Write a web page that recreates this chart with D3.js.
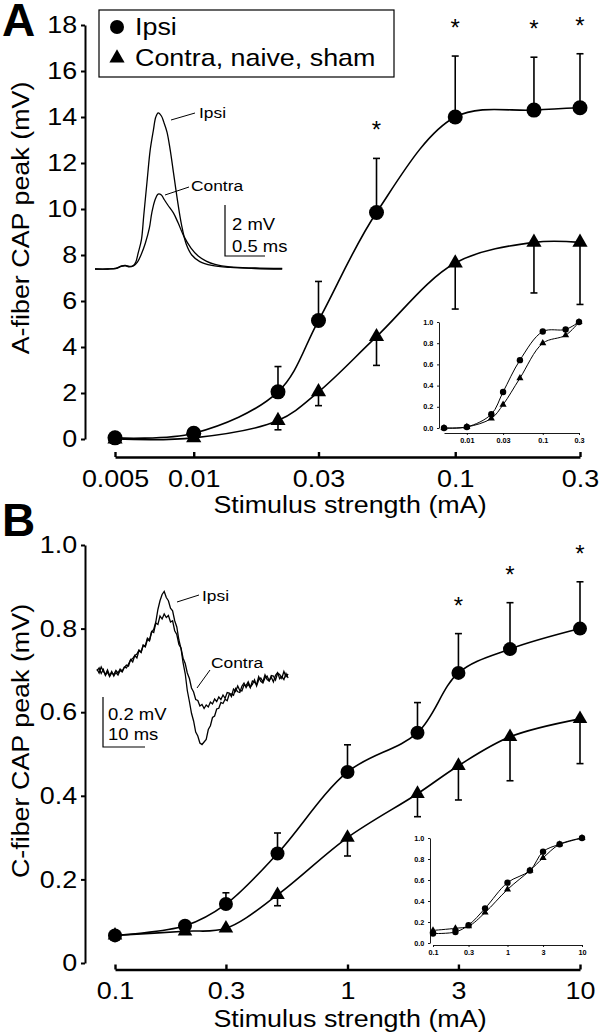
<!DOCTYPE html>
<html><head><meta charset="utf-8">
<script src="https://cdnjs.cloudflare.com/ajax/libs/d3/7.8.5/d3.min.js"></script>
<style>html,body{margin:0;padding:0;background:#fff;} svg{display:block;} text{font-family:"Liberation Sans",Arial,Helvetica,sans-serif;fill:#000;}</style>
</head><body><svg id="c" width="600" height="1033"></svg>
<script>
// ---------- DATA ----------
// Panel A (A-fiber)
const stimA = [0.005, 0.01, 0.021, 0.03, 0.05, 0.1, 0.2, 0.3];
const ipsiA = [0.05, 0.25, 2.05, 5.15, 9.85, 14.0, 14.3, 14.4];
const ipsiAErrTop = [null, null, 3.15, 6.85, 12.2, 16.65, 16.6, 16.75];
const contraA = [0, 0.05, 0.8, 2.05, 4.45, 7.65, 8.55, 8.55];
const contraAErrBottom = [null, null, 0.4, 1.45, 3.2, 5.65, 6.35, 5.85];
const sigA = [0.05, 0.1, 0.2, 0.3];
const yTicksA = [0, 2, 4, 6, 8, 10, 12, 14, 16, 18];
const xTicksA = [0.005, 0.01, 0.03, 0.1, 0.3];
const normIpsiA = [0, 0.01, 0.13, 0.34, 0.64, 0.91, 0.93, 1.0];
const normContraA = [0, 0.01, 0.09, 0.22, 0.47, 0.8, 0.875, 1.0];
const xTicksAInset = [0.01, 0.03, 0.1, 0.3];
// A-fiber example traces (ms, mV)
const traceAIpsiT = [0,0.16,0.26,0.33,0.38,0.43,0.48,0.51,0.54,0.58,0.61,0.65,0.69,0.73,0.76,0.79,0.83,0.86,0.90,0.94,0.98,1.03,1.08,1.14,1.21,1.31,1.46,1.69,2.0,2.34];
const traceAIpsiV = [0,0,0.02,0.12,0.14,0.10,0.14,0.27,0.63,1.14,2.12,3.41,4.67,5.45,5.96,6.12,6.0,5.76,5.37,4.67,3.80,2.71,1.76,0.98,0.55,0.29,0.14,0.06,0.02,0];
const traceAContraT = [0,0.16,0.26,0.33,0.38,0.43,0.48,0.53,0.58,0.63,0.68,0.71,0.75,0.79,0.83,0.86,0.91,0.98,1.04,1.11,1.2,1.29,1.39,1.5,1.69,2.0,2.34];
const traceAContraV = [0,0,0.02,0.1,0.12,0.08,0.12,0.27,0.59,1.02,1.61,2.2,2.71,2.94,2.9,2.75,2.51,2.2,1.8,1.29,0.82,0.51,0.31,0.18,0.08,0.04,0.02];

// Panel B (C-fiber)
const stimB = [0.1, 0.2, 0.3, 0.5, 1, 2, 3, 5, 10];
const ipsiB = [0.066, 0.089, 0.141, 0.262, 0.457, 0.551, 0.694, 0.751, 0.8];
const ipsiBErrTop = [null, null, 0.168, 0.311, 0.522, 0.623, 0.788, 0.862, 0.912];
const contraB = [0.066, 0.076, 0.083, 0.163, 0.3, 0.405, 0.472, 0.541, 0.584];
const contraBErrBottom = [null, null, null, 0.137, 0.256, 0.35, 0.39, 0.436, 0.477];
const sigB = [3, 5, 10];
const yTicksB = [0, 0.2, 0.4, 0.6, 0.8, 1.0];
const xTicksB = [0.1, 0.3, 1, 3, 10];
const normIpsiB = [0.09, 0.105, 0.17, 0.33, 0.575, 0.69, 0.87, 0.94, 1.0];
const normContraB = [0.12, 0.14, 0.16, 0.29, 0.51, 0.69, 0.81, 0.94, 1.0];
const xTicksBInset = [0.1, 0.3, 1, 3, 10];
// C-fiber example traces, sampled every 0.5 ms (mV)
const traceBStep = 0.5;
const traceBIpsi = [0.012,-0.004,0.02,0.003,-0.01,0.008,-0.014,0.002,-0.016,-0.002,-0.012,0.006,0.0,0.018,0.028,0.024,0.05,0.04,0.066,0.056,0.086,0.078,0.106,0.1,0.13,0.124,0.16,0.17,0.2,0.25,0.285,0.31,0.322,0.298,0.285,0.255,0.245,0.205,0.18,0.128,0.094,0.036,-0.006,-0.074,-0.118,-0.165,-0.196,-0.24,-0.256,-0.284,-0.29,-0.28,-0.27,-0.23,-0.215,-0.182,-0.176,-0.148,-0.145,-0.122,-0.126,-0.109,-0.115,-0.088,-0.088,-0.093,-0.066,-0.079,-0.082,-0.057,-0.044,-0.062,-0.048,-0.063,-0.036,-0.041,-0.05,-0.019,-0.037,-0.044,-0.024,-0.016,-0.035,-0.021,-0.04,-0.013,-0.002,-0.027,-0.018,-0.03,-0.006,-0.024];
const traceBContra = [0.004,0.016,-0.006,0.01,-0.014,0.0,-0.018,-0.004,-0.01,0.006,-0.004,0.012,0.004,0.02,0.016,0.032,0.048,0.054,0.066,0.072,0.088,0.08,0.108,0.104,0.135,0.128,0.162,0.158,0.196,0.19,0.224,0.212,0.232,0.218,0.226,0.2,0.205,0.165,0.15,0.11,0.096,0.055,0.034,-0.004,-0.026,-0.064,-0.08,-0.11,-0.114,-0.136,-0.13,-0.146,-0.132,-0.14,-0.12,-0.128,-0.108,-0.118,-0.1,-0.11,-0.092,-0.105,-0.082,-0.084,-0.098,-0.068,-0.078,-0.056,-0.074,-0.076,-0.052,-0.054,-0.039,-0.06,-0.05,-0.031,-0.056,-0.031,-0.024,-0.039,-0.011,-0.03,-0.036,-0.014,-0.016,-0.032,-0.005,-0.01,-0.025,0.002,-0.019,-0.008];

// ---------- DRAWING ----------
const svg = d3.select("#c");
const ST = 1.12, FS = 24;

function txt(g, x, y, s, o = {}) {
  const t = g.append("text")
    .attr("transform", `translate(${x},${y})${o.rot ? ` rotate(${o.rot})` : ""} scale(${o.nostretch ? 1 : ST},1)`)
    .attr("font-size", o.size || FS)
    .attr("text-anchor", o.anchor || "start")
    .text(s);
  if (o.weight) t.attr("font-weight", o.weight);
  return t;
}
function styleAxis(g, size, sw) {
  g.attr("font-family", null).attr("font-size", null);
  g.select(".domain").attr("stroke-width", sw).attr("stroke", "#000");
  g.selectAll(".tick line").attr("stroke-width", sw).attr("stroke", "#000");
  g.selectAll(".tick text").attr("font-size", size).attr("fill", "#000")
    .attr("transform", `scale(${ST},1)`);
}
const triSym = (area) => d3.symbol(d3.symbolTriangle, area)();

function mainPanel(cfg) {
  const g = svg.append("g");
  const { x, y } = cfg;
  const ya = g.append("g").attr("transform", `translate(${cfg.yAxisX},0)`)
    .call(d3.axisLeft(y).tickValues(cfg.yTicks).tickFormat(cfg.yFmt).tickSizeInner(4).tickSizeOuter(0).tickPadding(3));
  styleAxis(ya, FS, 2);
  const xa = g.append("g").attr("transform", `translate(0,${cfg.xAxisY})`)
    .call(d3.axisBottom(x).tickValues(cfg.xTicks).tickFormat(d => String(d)).tickSizeInner(-5).tickSizeOuter(0));
  styleAxis(xa, FS, 2.4);
  xa.selectAll(".tick text").attr("y", cfg.xLabelDy).attr("dy", 0);
  txt(g, cfg.titleX, cfg.titleY, "Stimulus strength (mA)", { anchor: "middle" });
  txt(g, 29, cfg.yLabelY, cfg.yLabel, { anchor: "middle", rot: -90 });
  txt(g, 2, cfg.letterY, cfg.letter, { size: 46, weight: "bold", nostretch: true });

  const ipsi = cfg.stim.map((s, i) => ({ s, v: cfg.ipsi[i], e: cfg.ipsiErr[i] }));
  const contra = cfg.stim.map((s, i) => ({ s, v: cfg.contra[i], e: cfg.contraErr[i] }));
  const line = d3.line().x(d => x(d.s)).y(d => y(d.v)).curve(d3.curveCatmullRom.alpha(0.5));
  [ipsi, contra].forEach(ser => {
    g.append("path").attr("d", line(ser)).attr("fill", "none").attr("stroke", "#000").attr("stroke-width", 1.6);
  });
  [ipsi, contra].forEach(ser => {
    ser.filter(d => d.e != null).forEach(d => {
      const xx = x(d.s);
      g.append("line").attr("x1", xx).attr("x2", xx).attr("y1", y(d.v)).attr("y2", y(d.e))
        .attr("stroke", "#000").attr("stroke-width", 1.6);
      g.append("line").attr("x1", xx - 3.5).attr("x2", xx + 3.5).attr("y1", y(d.e)).attr("y2", y(d.e))
        .attr("stroke", "#000").attr("stroke-width", 1.6);
    });
  });
  g.selectAll(".ci").data(ipsi).join("circle").attr("cx", d => x(d.s)).attr("cy", d => y(d.v))
    .attr("r", cfg.r).attr("fill", "#000");
  g.selectAll(".tr").data(contra).join("path").attr("d", triSym(cfg.triArea))
    .attr("transform", d => `translate(${x(d.s)},${y(d.v)})`).attr("fill", "#000");
  cfg.sig.forEach(s => {
    const d = ipsi.find(p => p.s === s);
    txt(g, x(s), y(d.e) - 20, "*", { anchor: "middle", size: 24, nostretch: true });
  });
  return g;
}

function insetPlot(cfg) {
  const g = svg.append("g");
  const { x, y } = cfg;
  const ya = g.append("g").attr("transform", `translate(${cfg.yAxisX},0)`)
    .call(d3.axisLeft(y).tickValues([0, 0.2, 0.4, 0.6, 0.8, 1.0]).tickFormat(d3.format(".1f")).tickSizeInner(2).tickSizeOuter(0).tickPadding(3));
  styleAxis(ya, 6.5, 0.9);
  ya.selectAll(".tick text").attr("font-weight", "bold").attr("fill", "#333");
  const xa = g.append("g").attr("transform", `translate(0,${cfg.xAxisY})`)
    .call(d3.axisBottom(x).tickValues(cfg.xTicks).tickFormat(d => String(d)).tickSizeInner(2).tickSizeOuter(0).tickPadding(3));
  styleAxis(xa, 6.5, 0.9);
  xa.selectAll(".tick text").attr("font-weight", "bold").attr("fill", "#333");
  const line = d3.line().x(d => x(d.s)).y(d => y(d.v)).curve(d3.curveCatmullRom.alpha(0.5));
  const ipsi = cfg.stim.map((s, i) => ({ s, v: cfg.ipsi[i] }));
  const contra = cfg.stim.map((s, i) => ({ s, v: cfg.contra[i] }));
  [ipsi, contra].forEach(ser => g.append("path").attr("d", line(ser)).attr("fill", "none").attr("stroke", "#000").attr("stroke-width", 1));
  g.selectAll(".ci").data(ipsi).join("circle").attr("cx", d => x(d.s)).attr("cy", d => y(d.v)).attr("r", 3.2).attr("fill", "#000");
  g.selectAll(".tr").data(contra).join("path").attr("d", triSym(22))
    .attr("transform", d => `translate(${x(d.s)},${y(d.v)})`).attr("fill", "#000");
}

// ---- Panel A ----
const xA = d3.scaleLog().domain([0.005, 0.3]).range([115, 580]);
const yA = d3.scaleLinear().domain([0, 18]).range([439, 25]);
mainPanel({
  x: xA, y: yA, yAxisX: 85, xAxisY: 457, xLabelDy: 30, yTicks: yTicksA, yFmt: d => String(d), xTicks: xTicksA,
  titleX: 350, titleY: 513, yLabel: "A-fiber CAP peak (mV)", yLabelY: 218, letter: "A", letterY: 36,
  stim: stimA, ipsi: ipsiA, ipsiErr: ipsiAErrTop, contra: contraA, contraErr: contraAErrBottom, sig: sigA,
  r: 7.5, triArea: 100
});
insetPlot({
  x: d3.scaleLog().domain([0.005, 0.3]).range([444, 579]),
  y: d3.scaleLinear().domain([0, 1]).range([428, 322]),
  yAxisX: 439, xAxisY: 433, xTicks: xTicksAInset, stim: stimA, ipsi: normIpsiA, contra: normContraA
});
// Legend
{
  const g = svg.append("g");
  g.append("rect").attr("x", 99).attr("y", 10).attr("width", 295).attr("height", 67)
    .attr("fill", "#fff").attr("stroke", "#000").attr("stroke-width", 1.2);
  g.append("circle").attr("cx", 117).attr("cy", 27).attr("r", 7).attr("fill", "#000");
  g.append("path").attr("d", triSym(100)).attr("transform", "translate(117,58)").attr("fill", "#000");
  txt(g, 135, 35, "Ipsi");
  txt(g, 135, 66, "Contra, naive, sham");
}
// A-fiber traces
{
  const g = svg.append("g");
  const xt = d3.scaleLinear().domain([0, 1]).range([95, 175]);   // ms
  const yt = d3.scaleLinear().domain([0, 1]).range([269, 243.5]); // mV
  const ln = d3.line().x(d => xt(d[0])).y(d => yt(d[1])).curve(d3.curveCatmullRom.alpha(0.5));
  g.append("path").attr("d", ln(traceAIpsiT.map((t, i) => [t, traceAIpsiV[i]])))
    .attr("fill", "none").attr("stroke", "#000").attr("stroke-width", 1.3);
  g.append("path").attr("d", ln(traceAContraT.map((t, i) => [t, traceAContraV[i]])))
    .attr("fill", "none").attr("stroke", "#000").attr("stroke-width", 1.3);
  const bx = 225, by = 256;
  const vLen = yt(0) - yt(2), hLen = xt(0.5) - xt(0);
  g.append("path").attr("d", `M${bx},${by - vLen}V${by}H${bx + hLen}`).attr("fill", "none").attr("stroke", "#000").attr("stroke-width", 1.2);
  txt(g, 232, 230, "2 mV", { size: 16.5 });
  txt(g, 232, 252, "0.5 ms", { size: 16.5 });
  g.append("line").attr("x1", 171).attr("y1", 120).attr("x2", 195).attr("y2", 113).attr("stroke", "#000").attr("stroke-width", 1);
  txt(g, 199, 118, "Ipsi", { size: 15.5 });
  g.append("line").attr("x1", 165).attr("y1", 195).attr("x2", 189).attr("y2", 187).attr("stroke", "#000").attr("stroke-width", 1);
  txt(g, 191, 191, "Contra", { size: 15.5 });
}

// ---- Panel B ----
const xB = d3.scaleLog().domain([0.1, 10]).range([115, 580]);
const yB = d3.scaleLinear().domain([0, 1]).range([963, 545]);
mainPanel({
  x: xB, y: yB, yAxisX: 85, xAxisY: 969.5, xLabelDy: 29.5, yTicks: yTicksB,
  yFmt: d => d === 0 ? "0" : d3.format(".1f")(d), xTicks: xTicksB,
  titleX: 350, titleY: 1027, yLabel: "C-fiber CAP peak (mV)", yLabelY: 741, letter: "B", letterY: 536,
  stim: stimB, ipsi: ipsiB, ipsiErr: ipsiBErrTop, contra: contraB, contraErr: contraBErrBottom, sig: sigB,
  r: 7, triArea: 92
});
insetPlot({
  x: d3.scaleLog().domain([0.1, 10]).range([433, 582]),
  y: d3.scaleLinear().domain([0, 1]).range([943, 838]),
  yAxisX: 430, xAxisY: 945, xTicks: xTicksBInset, stim: stimB, ipsi: normIpsiB, contra: normContraB
});
// C-fiber traces
{
  const g = svg.append("g");
  const xt = d3.scaleLinear().domain([0, 10]).range([97, 139]);     // ms
  const yt = d3.scaleLinear().domain([0, 0.2]).range([672, 622]);   // mV
  const ln = d3.line().x((d, i) => xt(i * traceBStep)).y(d => yt(d));
  g.append("path").attr("d", ln(traceBContra)).attr("fill", "none").attr("stroke", "#000").attr("stroke-width", 1.3);
  g.append("path").attr("d", ln(traceBIpsi)).attr("fill", "none").attr("stroke", "#000").attr("stroke-width", 1.3);
  const bx = 103, by = 747;
  const vLen = yt(0) - yt(0.2), hLen = xt(10) - xt(0);
  g.append("path").attr("d", `M${bx},${by - vLen}V${by}H${bx + hLen}`).attr("fill", "none").attr("stroke", "#000").attr("stroke-width", 1.2);
  txt(g, 108, 720, "0.2 mV", { size: 16.5 });
  txt(g, 108, 740, "10 ms", { size: 16.5 });
  g.append("line").attr("x1", 177).attr("y1", 602).attr("x2", 199).attr("y2", 595).attr("stroke", "#000").attr("stroke-width", 1);
  txt(g, 202, 601, "Ipsi", { size: 15.5 });
  g.append("line").attr("x1", 197).attr("y1", 688).attr("x2", 210).attr("y2", 670).attr("stroke", "#000").attr("stroke-width", 1);
  txt(g, 211, 668, "Contra", { size: 15.5 });
}
</script></body></html>
